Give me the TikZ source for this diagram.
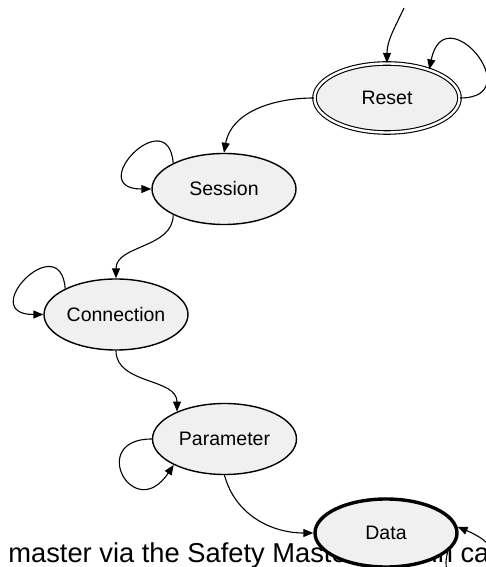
\documentclass[tikz,border=0pt]{standalone}
\usepackage{fontspec}
\setmainfont{Liberation Sans}
\usetikzlibrary{shapes.geometric,arrows.meta}
\definecolor{statefill}{RGB}{240,240,240}
\begin{document}
\begin{tikzpicture}[x=1pt,y=1pt,
  state/.style={ellipse, draw=black, fill=statefill, line width=1.4pt,
    minimum width=144pt, minimum height=71pt, inner sep=0pt,
    font=\fontsize{19.5}{23}\selectfont},
  initstate/.style={state, double, double distance=2.4pt, line width=1.1pt,
    minimum width=145pt, minimum height=69pt},
  finalstate/.style={state, line width=3.4pt, minimum width=142pt, minimum height=68pt},
  trans/.style={-{Triangle[length=10pt,width=8pt]}, line width=1.1pt},
  caption/.style={anchor=base west, inner sep=0pt, font=\fontsize{27.3}{32}\selectfont},
]
\useasboundingbox (0,0) rectangle (486,567);

% running text underneath the state machine
\node[caption] (captiontext) at (8.2,5) {master via the Safety Master node in case};

% states
\node[initstate]  (Reset)      at (387,469)   {Reset};
\node[state]      (Session)    at (224,378)   {Session};
\node[state]      (Connection) at (116,252.5) {Connection};
\node[state]      (Parameter)  at (224.5,128) {Parameter};
\node[finalstate] (Data)       at (386,34)    {Data};

\coordinate (entry) at (404,559);

% transitions
\draw[trans] (entry) to[out=245,in=90] (Reset.north);
\draw[trans] (Reset.east) .. controls +(70,0) and +(15,75) .. (Reset.34);
\draw[trans] (Reset.west) to[out=180,in=80] (Session.north);

\draw[trans] (Session.153) .. controls +(-5,62) and +(-68,0) .. (Session.west);
\draw[trans] (Session.207) to[out=-90,in=90] (Connection.north);

\draw[trans] (Connection.153) .. controls +(-5,62) and +(-68,0) .. (Connection.west);
\draw[trans] (Connection.south) to[out=-90,in=90] (Parameter.150);

\draw[trans] (Parameter.west) .. controls +(-65,0) and +(-40,-60) .. (Parameter.207);
\draw[trans] (Parameter.south) to[out=-75,in=180] (Data.west);

\draw[trans] (Data.-17) .. controls +(-17,-60) and +(87,-37) .. (Data.5);
\end{tikzpicture}
\end{document}
